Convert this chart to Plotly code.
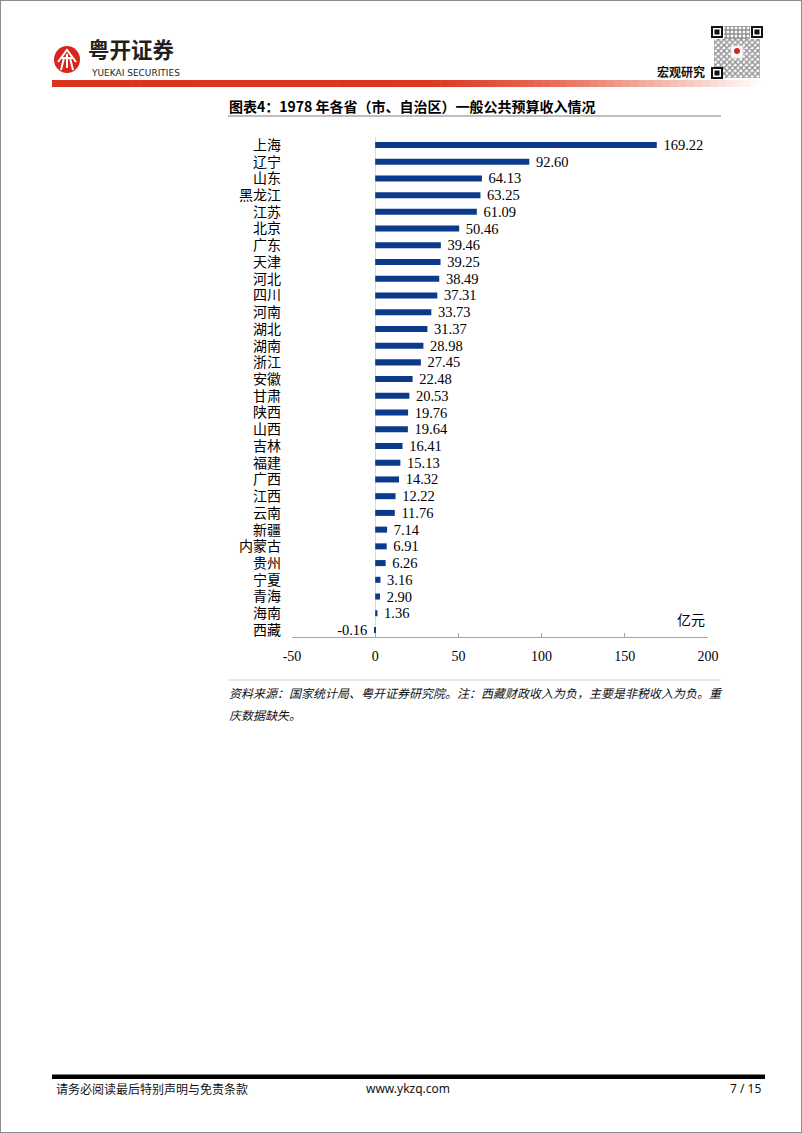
import plotly.graph_objects as go

# ---------------- data ----------------
provinces = ["上海", "辽宁", "山东", "黑龙江", "江苏", "北京", "广东", "天津", "河北", "四川",
             "河南", "湖北", "湖南", "浙江", "安徽", "甘肃", "陕西", "山西", "吉林", "福建",
             "广西", "江西", "云南", "新疆", "内蒙古", "贵州", "宁夏", "青海", "海南", "西藏"]
revenue = [169.22, 92.60, 64.13, 63.25, 61.09, 50.46, 39.46, 39.25, 38.49, 37.31,
           33.73, 31.37, 28.98, 27.45, 22.48, 20.53, 19.76, 19.64, 16.41, 15.13,
           14.32, 12.22, 11.76, 7.14, 6.91, 6.26, 3.16, 2.90, 1.36, -0.16]
x_ticks = [-50, 0, 50, 100, 150, 200]

title_text = "图表4：1978 年各省（市、自治区）一般公共预算收入情况"
unit_text = "亿元"
source_line1 = "资料来源：国家统计局、粤开证券研究院。注：西藏财政收入为负，主要是非税收入为负。重"
source_line2 = "庆数据缺失。"

W, H = 802, 1133
def px(x): return x / W
def py(y): return 1 - y / H

SERIF = "Liberation Serif, Times New Roman, Noto Sans CJK SC, serif"
SANS = "Noto Sans CJK SC, Microsoft YaHei, sans-serif"

templates = [("\u00a0%{x:.2f}" if v >= 0 else "%{x:.2f}\u00a0") for v in revenue]

fig = go.Figure()
fig.add_trace(go.Bar(
    x=revenue, y=provinces, orientation="h",
    marker=dict(color="#0b3a8c", line=dict(width=0)),
    width=0.36,
    texttemplate=templates, textposition="outside",
    textfont=dict(family=SERIF, size=14.5, color="black"),
    constraintext="none", cliponaxis=False,
    hoverinfo="skip", showlegend=False,
))

# ---------------- decorative page elements (pixel overlay axes) ----------------
# QR-code texture
fig.add_trace(go.Scatter(
    x=[714, 760, 760, 714, 714], y=[39, 39, 78, 78, 39],
    xaxis="x2", yaxis="y2", mode="lines", line=dict(width=0),
    fill="toself", fillcolor="white",
    fillpattern=dict(shape="x", fgcolor="#222", bgcolor="white", size=4, solidity=0.6),
    hoverinfo="skip", showlegend=False,
))
fig.add_trace(go.Scatter(
    x=[724, 750, 750, 724, 724], y=[26, 26, 39, 39, 26],
    xaxis="x2", yaxis="y2", mode="lines", line=dict(width=0),
    fill="toself", fillcolor="white",
    fillpattern=dict(shape="+", fgcolor="#222", bgcolor="white", size=4, solidity=0.6),
    hoverinfo="skip", showlegend=False,
))

fig.update_layout(
    width=W, height=H, autosize=False,
    margin=dict(l=0, r=0, t=0, b=0, pad=0),
    paper_bgcolor="white", plot_bgcolor="rgba(0,0,0,0)",
    xaxis=dict(
        domain=[px(292), px(708)], range=[-50, 200], anchor="y", automargin=False,
        tickvals=x_ticks, ticktext=[str(t) for t in x_ticks],
        tickfont=dict(family=SERIF, size=14, color="black"),
        showline=True, linecolor="#a6a6a6", linewidth=1,
        ticks="inside", ticklen=4, tickcolor="#a6a6a6",
        zeroline=True, zerolinecolor="#d9d9d9", zerolinewidth=1,
        showgrid=False, fixedrange=True, ticklabelstandoff=6,
    ),
    yaxis=dict(
        domain=[py(637), py(136.6)], anchor="x", automargin=False,
        type="category", categoryorder="array", categoryarray=provinces,
        tickmode="array", tickvals=provinces, ticktext=provinces,
        range=[29.42, -0.5], autorange=False,
        tickfont=dict(family=SERIF, size=14, color="black"),
        showline=False, ticks="", showgrid=False, zeroline=False,
        ticklabelstandoff=10, fixedrange=True,
    ),
    xaxis2=dict(domain=[0, 1], range=[0, W], anchor="y2", visible=False, fixedrange=True,
                automargin=False, showticklabels=False),
    yaxis2=dict(domain=[0, 1], range=[H, 0], anchor="x2", visible=False, fixedrange=True,
                automargin=False, showticklabels=False),
)

shapes = []
# page frame
shapes.append(dict(type="rect", xref="paper", yref="paper", x0=0, x1=1, y0=0, y1=1,
                   line=dict(color="#8c8c8c", width=2), fillcolor="rgba(0,0,0,0)", layer="above"))

# red gradient header bar
def lerp(a, b, t): return a + (b - a) * t
stops = [(52, (217, 51, 31)), (430, (219, 55, 33)), (560, (232, 112, 92)),
         (680, (245, 196, 186)), (765, (255, 255, 255))]
N = 90
x_start, x_end = 52, 765
step = (x_end - x_start) / N
for i in range(N):
    xm = x_start + (i + 0.5) * step
    for (xa, ca), (xb, cb) in zip(stops[:-1], stops[1:]):
        if xa <= xm <= xb:
            t = (xm - xa) / (xb - xa)
            c = tuple(int(round(lerp(ca[k], cb[k], t))) for k in range(3))
            break
    shapes.append(dict(type="rect", xref="x2", yref="y2",
                       x0=x_start + i * step, x1=x_start + (i + 1) * step + 0.6,
                       y0=80, y1=87, line=dict(width=0), fillcolor=f"rgb{c}", layer="above"))

# logo icon
shapes.append(dict(type="circle", xref="x2", yref="y2", x0=54, x1=80, y0=46, y1=73,
                   fillcolor="#d7261e", line=dict(width=0)))
shapes.append(dict(type="path", xref="x2", yref="y2",
                   path="M 58,62 L 67,50 L 76,62 M 61,58 L 73,58 M 64,58 L 61,70 M 70,58 L 73,70 M 67,54 L 67,68",
                   line=dict(color="white", width=2)))

# QR finder patterns
def finder(x, y, s=12):
    return [
        dict(type="rect", xref="x2", yref="y2", x0=x, x1=x + s, y0=y, y1=y + s,
             fillcolor="#111", line=dict(width=0), layer="above"),
        dict(type="rect", xref="x2", yref="y2", x0=x + 2, x1=x + s - 2, y0=y + 2, y1=y + s - 2,
             fillcolor="white", line=dict(width=0), layer="above"),
        dict(type="rect", xref="x2", yref="y2", x0=x + 3.5, x1=x + s - 3.5, y0=y + 3.5, y1=y + s - 3.5,
             fillcolor="#111", line=dict(width=0), layer="above"),
    ]
shapes += finder(711, 26) + finder(751, 26) + finder(711, 67)
shapes.append(dict(type="rect", xref="x2", yref="y2", x0=731, x1=743, y0=46, y1=58,
                   fillcolor="white", line=dict(color="#ddd", width=1), layer="above"))
shapes.append(dict(type="circle", xref="x2", yref="y2", x0=734, x1=740, y0=48, y1=54,
                   fillcolor="#d7261e", line=dict(width=0), layer="above"))

# title underline
shapes.append(dict(type="line", xref="x2", yref="y2", x0=228, x1=721, y0=116, y1=116,
                   line=dict(color="#bfbfbf", width=2)))
# source separator
shapes.append(dict(type="line", xref="x2", yref="y2", x0=228, x1=721, y0=680, y1=680,
                   line=dict(color="#d0d0d0", width=1)))
# footer bar
shapes.append(dict(type="rect", xref="x2", yref="y2", x0=52, x1=765, y0=1074.5, y1=1079,
                   fillcolor="black", line=dict(width=0)))
fig.update_layout(shapes=shapes)

ann = []
def text(x, y, s, size, family=SANS, color="black", xanchor="left", yanchor="middle",
         bold=False, italic=False):
    if bold:
        s = f"<b>{s}</b>"
    if italic:
        s = f"<i>{s}</i>"
    ann.append(dict(xref="paper", yref="paper", x=px(x), y=py(y), text=s, showarrow=False,
                    xanchor=xanchor, yanchor=yanchor,
                    font=dict(family=family, size=size, color=color)))

text(86, 66, "粤开证券", 21.5, color="#231f20", yanchor="bottom", bold=True)
text(89, 65.5, "YUEKAI SECURITIES", 9, family="DejaVu Sans, sans-serif", color="#231f20", yanchor="top")
text(707, 71, "宏观研究", 12, color="#111", xanchor="right", bold=True)
text(227, 106, title_text, 14, color="black", bold=True)
text(707, 620, unit_text, 14, family=SERIF, xanchor="right")
text(227, 692, source_line1, 12, color="#111", italic=True)
text(227, 714, source_line2, 12, color="#111", italic=True)
text(54, 1088, "请务必阅读最后特别声明与免责条款", 12, color="#111")
text(408, 1088, "www.ykzq.com", 12, family="Noto Sans, Open Sans, sans-serif", color="#111", xanchor="center")
text(763, 1088, "7 / 15", 12, family="Noto Sans, Open Sans, sans-serif", color="#111", xanchor="right")
fig.update_layout(annotations=ann)

fig.write_html(
    "out.html",
    config={"responsive": False, "displayModeBar": False},
    post_script="document.body.style.margin='0';document.body.style.padding='0';document.body.style.overflow='hidden';document.documentElement.style.overflow='hidden';",
)
